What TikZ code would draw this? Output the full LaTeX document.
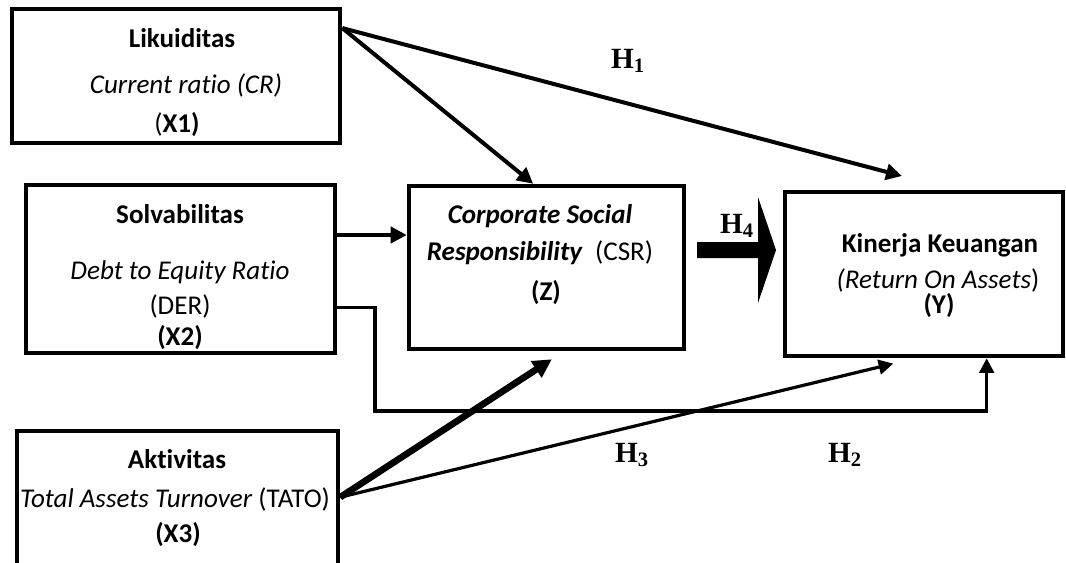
\documentclass[tikz,border=0pt]{standalone}
\usepackage{fontspec}
\setmainfont[Ligatures=NoCommon]{Carlito}
\newfontfamily\timesfont{Liberation Serif}
\usetikzlibrary{arrows.meta,positioning}
\tikzset{
  box/.style={draw,line width=3.4pt,inner sep=0pt},
  txt/.style={anchor=base,inner sep=0pt,font=\fontsize{20.3}{23}\selectfont},
  hyp/.style={inner sep=0pt,font=\timesfont\bfseries\fontsize{22}{25}\selectfont},
  arr/.style={line width=3pt,-{Triangle[length=12pt,width=12pt]}},
  thinarr/.style={line width=2.4pt,-{Triangle[length=11pt,width=11pt]}},
  fatarr/.style={line width=5pt,-{Triangle[length=14pt,width=14pt]}}
}
\begin{document}
\begin{tikzpicture}[x=0.75pt,y=-0.75pt]
	\useasboundingbox (0,0) rectangle (1066,562);

	\node[box,minimum width=246pt,minimum height=100.5pt] at (176,76) (X1) {};
	\node[txt] at (182,47) (X1a) {\textbf{Likuiditas}};
	\node[txt] at (186,93) (X1b) {\textit{Current ratio (CR)}};
	\node[txt] at (177,132) (X1c) {(\textbf{X1)}};

	\node[box,minimum width=231.75pt,minimum height=126pt] at (180.5,269) (X2) {};
	\node[txt] at (180,223) (X2a) {\textbf{Solvabilitas}};
	\node[txt] at (180,279) (X2b) {\textit{Debt to Equity Ratio}};
	\node[txt] at (180,314) (X2c) {(DER)};
	\node[txt] at (180,345) (X2d) {\textbf{(X2)}};

	\node[box,minimum width=240.75pt,minimum height=104.25pt] at (177.5,500.5) (X3) {};
	\node[txt] at (177,468) (X3a) {\textbf{Aktivitas}};
	\node[txt] at (175,507) (X3b) {\textit{Total Assets Turnover} (TATO)};
	\node[txt] at (178,542) (X3c) {\textbf{(X3)}};

	\node[box,minimum width=206.25pt,minimum height=122.25pt] at (546.5,267.5) (Z) {};
	\node[txt] at (540,223) (Za) {\textbf{\textit{Corporate Social}}};
	\node[txt] at (540,260) (Zb) {\textbf{\textit{Responsibility}}~ (CSR)};
	\node[txt] at (546,300) (Zc) {\textbf{(Z)}};

	\node[box,minimum width=208.5pt,minimum height=123pt] at (924,274) (Y) {};
	\node[txt] at (940,252) (Ya) {\textbf{Kinerja Keuangan}};
	\node[txt] at (938,288) (Yb) {\textit{(Return On Assets})};
	\node[txt] at (939,313) (Yc) {\textbf{(Y)}};

	\coordinate (Yin) at (902,176);
	\draw[arr] ([yshift=-16pt]X1.north east) -- ([xshift=-10pt]Z.north);
	\draw[arr] ([yshift=-16pt]X1.north east) -- (Yin);
	\draw[arr] ([yshift=25.5pt]X2.east) -- ([yshift=25.5pt]X2.east -| Z.west);
	\draw[thinarr] ([yshift=-29pt]X2.east) -| (375,411) -| ([xshift=47pt]Y.south);
	\draw[fatarr] ([yshift=2.5pt]X3.east) -- ([xshift=4pt,yshift=-6pt]Z.south);
	\draw[thinarr] ([yshift=2.5pt]X3.east) -- ([xshift=-23pt,yshift=-4pt]Y.south);
	\fill (697,242) -- (758,242) -- (758,197) -- (776,250) -- (758,303) -- (758,258) -- (697,258) -- cycle;

	\node[hyp] at (628,61) (H1) {H\textsubscript{1}};
	\node[hyp] at (737,226) (H4) {H\textsubscript{4}};
	\node[hyp] at (632,455) (H3) {H\textsubscript{3}};
	\node[hyp] at (845,455) (H2) {H\textsubscript{2}};
\end{tikzpicture}
\end{document}
